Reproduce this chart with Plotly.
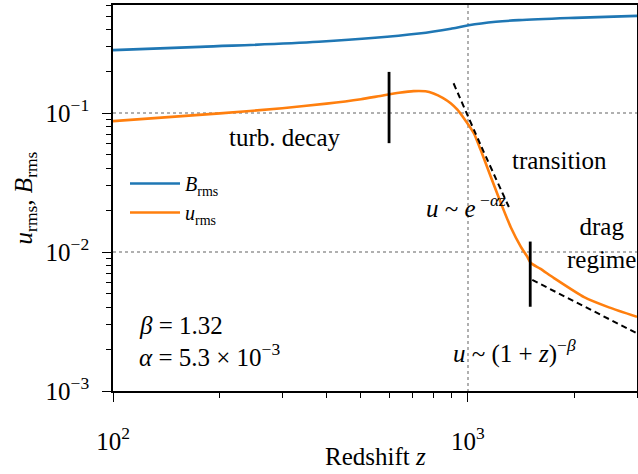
import plotly.graph_objects as go

# Data
z_B = [100, 176, 380, 728, 902, 1006, 1200, 1393, 2000, 3000]
B_rms = [0.284, 0.300, 0.326, 0.374, 0.406, 0.429, 0.454, 0.467, 0.485, 0.501]

z_u = [100, 200, 300, 400, 500, 567, 640, 703, 760, 801, 850, 895, 935, 975, 1040,
       1088, 1162, 1240, 1322, 1412, 1470, 1506, 1600, 1750, 2128, 2500, 3000]
u_rms = [0.0876, 0.0995, 0.1085, 0.117, 0.126, 0.133, 0.140, 0.144, 0.1435, 0.1386, 0.129,
         0.118, 0.106, 0.092, 0.0718, 0.0542, 0.0347, 0.0225, 0.0151, 0.0109, 0.0093,
         0.00834, 0.0076, 0.0065, 0.00474, 0.0040, 0.00342]

# fit guide lines
z_exp = [912, 1088, 1306]
u_exp = [0.164, 0.0588, 0.0211]
z_pow = [1520, 3000]
u_pow = [0.0063, 0.0026]

# regime markers
z_mark1 = [600, 600]
u_mark1 = [0.0608, 0.198]
z_mark2 = [1500, 1500]
u_mark2 = [0.00404, 0.0119]

FONT = "'Liberation Serif', 'Times New Roman', Times, serif"

fig = go.Figure()
fig.add_trace(go.Scatter(x=z_B, y=B_rms, mode="lines", line=dict(color="#1f77b4", width=2.6, shape="spline"),
                         name="<i>B</i><sub>rms</sub>"))
fig.add_trace(go.Scatter(x=z_u, y=u_rms, mode="lines", line=dict(color="#ff7f0e", width=2.6, shape="spline", smoothing=0.6),
                         name="<i>u</i><sub>rms</sub>"))
fig.add_trace(go.Scatter(x=z_exp, y=u_exp, mode="lines", line=dict(color="black", width=2, dash="6px,4px", shape="spline"),
                         showlegend=False))
fig.add_trace(go.Scatter(x=z_pow, y=u_pow, mode="lines", line=dict(color="black", width=2, dash="6px,4px"),
                         showlegend=False))
fig.add_trace(go.Scatter(x=z_mark1, y=u_mark1, mode="lines", line=dict(color="black", width=2.8), showlegend=False))
fig.add_trace(go.Scatter(x=z_mark2, y=u_mark2, mode="lines", line=dict(color="black", width=2.8), showlegend=False))

L, R, T, B = 113, 637, 5, 391
W, H = 638, 474


def px(xp, yp):
    return (xp - L) / (R - L), (B - yp) / (B - T)


annots = [
    ("turb. decay", 285, 137, "center"),
    ("transition", 559, 160, "center"),
    ("<i>u</i> ~ <i>e</i><sup> −<i>αz</i></sup>", 466, 206, "center"),
    ("drag<br>regime", 601, 243, "center"),
    ("<i>u</i> ~ (1 + <i>z</i>)<sup>−<i>β</i></sup>", 514, 351, "center"),
    ("<i>β</i> = 1.32", 137, 325, "left"),
    ("<i>α</i> = 5.3 × 10<sup>−3</sup>", 137, 355, "left"),
    ("Redshift <i>z</i>", 375, 456, "center"),
]
for text, xp, yp, align in annots:
    ax, ay = px(xp, yp)
    fig.add_annotation(text=text, x=ax, y=ay, xref="paper", yref="paper", showarrow=False,
                       xanchor=align, yanchor="middle", align="center",
                       font=dict(family=FONT, size=25, color="black"))

x_minor = [200, 300, 400, 500, 600, 700, 800, 900, 2000, 3000]
y_minor = [2e-3, 3e-3, 4e-3, 5e-3, 6e-3, 7e-3, 8e-3, 9e-3,
           2e-2, 3e-2, 4e-2, 5e-2, 6e-2, 7e-2, 8e-2, 9e-2,
           0.2, 0.3, 0.4, 0.5, 0.6]

fig.update_xaxes(type="log", range=[2, 3.4771], showline=True, linecolor="black", linewidth=1.6, mirror=True,
                 ticks="outside", ticklen=9, tickwidth=1.3, tickcolor="black",
                 tickvals=[100, 1000], ticktext=["10<sup>2</sup>", "10<sup>3</sup>"],
                 ticklabelstandoff=18,
                 showgrid=True, gridcolor="#b0b0b0", griddash="dot", gridwidth=1.5,
                 minor=dict(tickvals=x_minor, ticks="outside", ticklen=5, tickwidth=1, tickcolor="black", showgrid=False),
                 tickfont=dict(family=FONT, size=25, color="black"),
                 zeroline=False)
fig.update_yaxes(type="log", range=[-3, -0.2218], showline=True, linecolor="black", linewidth=1.6, mirror=True,
                 ticks="outside", ticklen=9, tickwidth=1.3, tickcolor="black",
                 tickvals=[1e-3, 1e-2, 1e-1],
                 ticktext=["10<sup>−3</sup>", "10<sup>−2</sup>", "10<sup>−1</sup>"],
                 ticklabelstandoff=8,
                 showgrid=True, gridcolor="#b0b0b0", griddash="dot", gridwidth=1.5,
                 minor=dict(tickvals=y_minor, ticks="outside", ticklen=5, tickwidth=1, tickcolor="black", showgrid=False),
                 tickfont=dict(family=FONT, size=25, color="black"),
                 title=dict(text="<i>u</i><sub>rms</sub>, <i>B</i><sub>rms</sub>",
                            font=dict(family=FONT, size=25, color="black"), standoff=6),
                 zeroline=False)

lx, ly = px(125, 164)
fig.update_layout(
    width=W, height=H,
    margin=dict(l=L, r=W - R, t=T, b=H - B, autoexpand=False),
    paper_bgcolor="white", plot_bgcolor="white",
    font=dict(family=FONT, color="black"),
    legend=dict(x=lx, y=ly, xanchor="left", yanchor="top", bgcolor="rgba(0,0,0,0)",
                font=dict(family=FONT, size=20, color="black"), tracegroupgap=4, itemwidth=50),
)

fig.write_html("out.html")
